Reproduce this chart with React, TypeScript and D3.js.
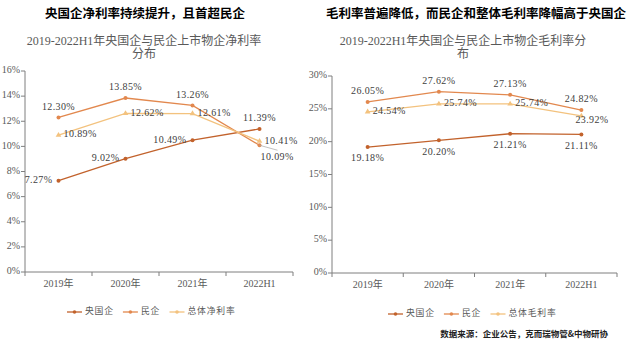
import React from "react";
import * as d3 from "d3";

const categories = ["2019年", "2020年", "2021年", "2022H1"];

const seriesNames = ["央国企", "民企"];
const netTotalName = "总体净利率";
const grossTotalName = "总体毛利率";

const netSOE = [7.27, 9.02, 10.49, 11.39];
const netPrivate = [12.3, 13.85, 13.26, 10.09];
const netTotal = [10.89, 12.62, 12.61, 10.41];

const grossSOE = [19.18, 20.2, 21.21, 21.11];
const grossPrivate = [26.05, 27.62, 27.13, 24.82];
const grossTotal = [24.54, 25.74, 25.74, 23.92];

const netTicks = [0, 2, 4, 6, 8, 10, 12, 14, 16];
const grossTicks = [0, 5, 10, 15, 20, 25, 30];

const leftTitle = "央国企净利率持续提升，且首超民企";
const rightTitle = "毛利率普遍降低，而民企和整体毛利率降幅高于央国企";
const leftSub = ["2019-2022H1年央国企与民企上市物企净利率", "分布"];
const rightSub = ["2019-2022H1年央国企与民企上市物企毛利率分", "布"];
const sourceText = "数据来源：企业公告，克而瑞物管&中物研协";

const COLORS = ["#C2622C", "#E2884E", "#F3C27E"];
const FONT = "'Liberation Serif', 'Noto Sans CJK SC', serif";
const TITLE_FONT = "'Noto Sans CJK SC', sans-serif";

type Pos = "above" | "below" | "left" | "right" | "belowright" | "lowright";

interface PanelProps {
  series: { name: string; values: number[]; marker: "circle" | "triangle"; pos: Pos[] }[];
  ticks: number[];
  x0: number;
  x1: number;
  yTop: number;
  yBottom: number;
  labelX: number;
}

function Label({ x, y, pos, text }: { x: number; y: number; pos: Pos; text: string }) {
  let tx = x, ty = y, anchor = "middle";
  let leader: React.ReactElement | null = null;
  if (pos === "above") { ty = y - 10; }
  if (pos === "below") { ty = y + 12; }
  if (pos === "left") { tx = x - 6; anchor = "end"; }
  if (pos === "right") { tx = x + 5; anchor = "start"; }
  if (pos === "lowright") { tx = x - 6; ty = y + 5; anchor = "start"; }
  if (pos === "belowright") {
    tx = x + 1; ty = y + 12; anchor = "start";
    leader = <line x1={x} y1={y} x2={x + 18} y2={y + 5} stroke="#a6a6a6" strokeWidth={0.7} />;
  }
  return (
    <g>
      {leader}
      <text x={tx} y={ty} textAnchor={anchor} dominantBaseline="middle" fontSize={10} fill="#404040" fontFamily={FONT} letterSpacing={0.4}>
        {text}
      </text>
    </g>
  );
}

function Panel({ series, ticks, x0, x1, yTop, yBottom, labelX }: PanelProps) {
  const x = d3.scaleBand<string>().domain(categories).range([x0, x1]);
  const y = d3.scaleLinear().domain([ticks[0], ticks[ticks.length - 1]]).range([yBottom, yTop]);
  const cx = (c: string) => (x(c) as number) + x.bandwidth() / 2;
  const line = d3.line<number>().x((_, i) => cx(categories[i])).y((v) => y(v));
  const tri = d3.symbol().type(d3.symbolTriangle).size(14)();
  return (
    <g>
      <line x1={x0} x2={x0} y1={yTop} y2={yBottom} stroke="#7f7f7f" strokeWidth={1} />
      {ticks.map((t) => (
        <g key={t}>
          <line x1={x0 - 4} x2={x0} y1={y(t)} y2={y(t)} stroke="#7f7f7f" />
          <text x={labelX} y={y(t)} textAnchor="end" dominantBaseline="middle" fontSize={10} fill="#595959" fontFamily={FONT}>
            {t}%
          </text>
        </g>
      ))}
      <line x1={x0} x2={x1} y1={yBottom} y2={yBottom} stroke="#7f7f7f" />
      {categories.map((c) => (
        <line key={c} x1={x(c) as number} x2={x(c) as number} y1={yBottom} y2={yBottom + 4} stroke="#7f7f7f" />
      ))}
      <line x1={x1} x2={x1} y1={yBottom} y2={yBottom + 4} stroke="#7f7f7f" />
      {categories.map((c) => (
        <text key={c} x={cx(c)} y={yBottom + 13} textAnchor="middle" dominantBaseline="middle" fontSize={10} fill="#595959" fontFamily={FONT}>
          {c}
        </text>
      ))}
      {series.map((s, si) => (
        <g key={s.name}>
          <path d={line(s.values) || ""} fill="none" stroke={COLORS[si]} strokeWidth={1.3} />
          {s.values.map((v, i) =>
            s.marker === "circle" ? (
              <circle key={i} cx={cx(categories[i])} cy={y(v)} r={2} fill={COLORS[si]} />
            ) : (
              <path key={i} d={tri || ""} transform={`translate(${cx(categories[i])},${y(v)})`} fill={COLORS[si]} />
            )
          )}
        </g>
      ))}
      {series.map((s) =>
        s.values.map((v, i) => (
          <Label key={s.name + i} x={cx(categories[i])} y={y(v)} pos={s.pos[i]} text={v.toFixed(2) + "%"} />
        ))
      )}
    </g>
  );
}

function Legend({ x, y, names }: { x: number; y: number; names: string[] }) {
  let cur = x;
  const items: React.ReactElement[] = [];
  names.forEach((n, i) => {
    const w = n.length * 9.3;
    items.push(
      <g key={n}>
        <line x1={cur} x2={cur + 15} y1={y} y2={y} stroke={COLORS[i]} strokeWidth={1.3} />
        <circle cx={cur + 7.5} cy={y} r={1.8} fill={COLORS[i]} />
        <text x={cur + 18} y={y} dominantBaseline="middle" fontSize={8.8} fill="#595959" fontFamily={FONT} letterSpacing={0.8}>
          {n}
        </text>
      </g>
    );
    cur += 18 + w + 10;
  });
  return <g>{items}</g>;
}

export default function App() {
  const leftSeries = [
    { name: seriesNames[0], values: netSOE, marker: "circle" as const, pos: ["left", "left", "left", "above"] as Pos[] },
    { name: seriesNames[1], values: netPrivate, marker: "circle" as const, pos: ["above", "above", "above", "belowright"] as Pos[] },
    { name: netTotalName, values: netTotal, marker: "triangle" as const, pos: ["right", "right", "right", "right"] as Pos[] },
  ];
  const rightSeries = [
    { name: seriesNames[0], values: grossSOE, marker: "circle" as const, pos: ["below", "below", "below", "below"] as Pos[] },
    { name: seriesNames[1], values: grossPrivate, marker: "circle" as const, pos: ["above", "above", "above", "above"] as Pos[] },
    { name: grossTotalName, values: grossTotal, marker: "triangle" as const, pos: ["right", "right", "right", "lowright"] as Pos[] },
  ];
  return (
    <svg width={640} height={342} style={{ position: "absolute", left: 0, top: 0, background: "#fff" }}>
      <text x={145} y={15} textAnchor="middle" dominantBaseline="middle" fontSize={12.5} fontWeight="bold" fill="#000" fontFamily={TITLE_FONT}>
        {leftTitle}
      </text>
      <text x={476} y={15} textAnchor="middle" dominantBaseline="middle" fontSize={12.5} fontWeight="bold" fill="#000" fontFamily={TITLE_FONT}>
        {rightTitle}
      </text>
      {leftSub.map((t, i) => (
        <text key={i} x={144} y={42 + i * 13.5} textAnchor="middle" dominantBaseline="middle" fontSize={12} fill="#595959" fontFamily={FONT}>
          {t}
        </text>
      ))}
      {rightSub.map((t, i) => (
        <text key={i} x={463} y={42 + i * 13.5} textAnchor="middle" dominantBaseline="middle" fontSize={12} fill="#595959" fontFamily={FONT}>
          {t}
        </text>
      ))}
      <Panel series={leftSeries} ticks={netTicks} x0={25} x1={293} yTop={71} yBottom={272} labelX={20} />
      <Panel series={rightSeries} ticks={grossTicks} x0={332} x1={617} yTop={76} yBottom={273} labelX={327} />
      <Legend x={67} y={312} names={[seriesNames[0], seriesNames[1], netTotalName]} />
      <Legend x={388} y={314} names={[seriesNames[0], seriesNames[1], grossTotalName]} />
      <text x={608} y={335} textAnchor="end" dominantBaseline="middle" fontSize={8.5} fontWeight="bold" fill="#222" fontFamily={TITLE_FONT}>
        {sourceText}
      </text>
    </svg>
  );
}
